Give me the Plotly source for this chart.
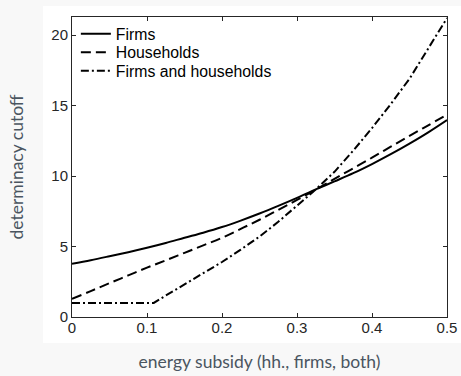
import plotly.graph_objects as go

# ---- data ----
x_grid = [0, 0.025, 0.05, 0.075, 0.1, 0.125, 0.15, 0.175, 0.2, 0.225, 0.25,
          0.275, 0.3, 0.325, 0.35, 0.375, 0.4, 0.425, 0.45, 0.475, 0.5]
firms = [3.78, 4.03, 4.31, 4.60, 4.91, 5.25, 5.62, 5.98, 6.38, 6.84, 7.34,
         7.88, 8.45, 9.05, 9.62, 10.20, 10.85, 11.55, 12.30, 13.10, 13.97]
households = [1.28, 1.84, 2.40, 2.95, 3.50, 4.02, 4.55, 5.08, 5.62, 6.25, 6.90,
              7.60, 8.30, 9.03, 9.80, 10.55, 11.30, 12.08, 12.85, 13.60, 14.35]
x_both = [0, 0.025, 0.05, 0.075, 0.1, 0.109, 0.125, 0.15, 0.175, 0.2, 0.225, 0.25,
          0.275, 0.3, 0.325, 0.35, 0.375, 0.4, 0.425, 0.45, 0.475, 0.5]
both = [1.0, 1.0, 1.0, 1.0, 1.0, 1.0, 1.52, 2.32, 3.10, 3.90, 4.78, 5.70,
        6.75, 7.90, 9.05, 10.30, 11.80, 13.40, 15.10, 16.90, 19.00, 21.20]

x_ticks = [0, 0.1, 0.2, 0.3, 0.4, 0.5]
x_ticklabels = ["0", "0.1", "0.2", "0.3", "0.4", "0.5"]
y_ticks = [0, 5, 10, 15, 20]
y_ticklabels = ["0", "5", "10", "15", "20"]

series_names = ["Firms", "Households", "Firms and households"]

fig = go.Figure()
fig.add_trace(go.Scatter(x=x_grid, y=firms, name=series_names[0], mode="lines",
                         legend="legend",
                         line=dict(color="black", width=2, dash="solid", shape="spline")))
fig.add_trace(go.Scatter(x=x_grid, y=households, name=series_names[1], mode="lines",
                         legend="legend2",
                         line=dict(color="black", width=2, dash="10px,5px", shape="spline")))
fig.add_trace(go.Scatter(x=x_both, y=both, name=series_names[2], mode="lines",
                         legend="legend3",
                         line=dict(color="black", width=2, dash="8px,3px,2px,3px")))

axis_common = dict(showline=True, linecolor="#262626", linewidth=1, mirror="ticks",
                   ticks="inside", ticklen=4, tickcolor="#262626", showgrid=False,
                   zeroline=False, automargin=False,
                   tickfont=dict(family="Liberation Sans, Arial", size=15, color="#262626"))

title_font = dict(family="Lato", size=17.5, color="#4a5560", weight=400)

fig.update_xaxes(range=[0, 0.5], tickvals=x_ticks, ticktext=x_ticklabels,
                 ticklabelstandoff=-3,
                 title=dict(text="energy subsidy (hh., firms, both)", standoff=20,
                            font=title_font),
                 **axis_common)
fig.update_yaxes(range=[0, 21.28], tickvals=y_ticks, ticktext=y_ticklabels,
                 title=dict(text="determinacy cutoff", standoff=23, font=title_font),
                 **axis_common)

# white figure panel behind the axes
fig.add_shape(type="rect", xref="paper", yref="paper", x0=-0.0773, x1=1.04,
              y0=-0.0867, y1=1.0367, fillcolor="white", line=dict(width=0), layer="below")

legend_font = dict(family="Liberation Sans, Arial", size=15.8, color="black")
legend_common = dict(x=0.0103, xanchor="left", yanchor="middle",
                     bgcolor="rgba(0,0,0,0)", borderwidth=0, itemwidth=30,
                     font=legend_font)

fig.update_layout(
    width=461, height=376,
    margin=dict(l=72, r=14, t=17, b=59, autoexpand=False),
    paper_bgcolor="#f8f8f8", plot_bgcolor="rgba(0,0,0,0)",
    showlegend=True,
    hovermode=False,
    legend=dict(y=0.9433, **legend_common),
    legend2=dict(y=0.8817, **legend_common),
    legend3=dict(y=0.82, **legend_common),
)

fig.write_html("out.html",
               config={"displayModeBar": False},
               post_script="document.body.style.margin='0';"
                           "document.body.style.background='#f8f8f8';")
